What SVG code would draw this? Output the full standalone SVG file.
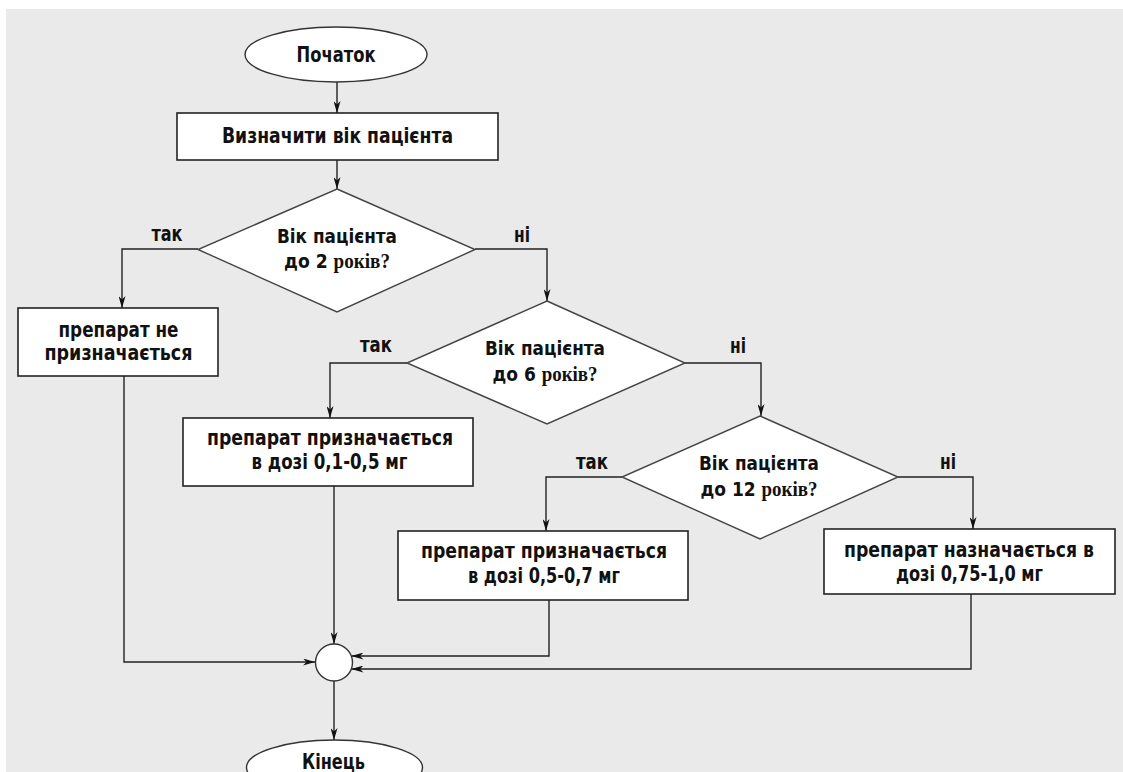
<svg xmlns="http://www.w3.org/2000/svg" width="1123" height="772" viewBox="0 0 1123 772">
<defs>
<marker id="arr" markerUnits="userSpaceOnUse" markerWidth="12" markerHeight="7" refX="12" refY="3.5" orient="auto">
<path d="M0,0 L12,3.5 L0,7 L3.5,3.5 z" fill="#111"/>
</marker>
<style>
.bg{fill:#eaeaea}
.box{fill:#fff;stroke:#222;stroke-width:1.6}
.dia{fill:#fff;stroke:#444;stroke-width:1.4}
.term{fill:#fff;stroke:#333;stroke-width:1.4}
.con{fill:none;stroke:#222;stroke-width:1.4;marker-end:url(#arr)}
text{font-family:"DejaVu Sans Condensed","Liberation Sans",sans-serif;font-weight:bold;font-size:21px;fill:#111;text-anchor:middle}
text.d{font-size:20px}
.ser{font-family:"Liberation Serif",serif;font-weight:bold}
</style>
</defs>
<rect width="1123" height="772" fill="#fff"/>
<rect class="bg" x="6" y="9" width="1117" height="763"/>

<g id="connectors">
<path class="con" d="M337,82 V113"/>
<path class="con" d="M337,160 V189"/>
<path class="con" d="M198,249 H122 V308"/>
<path class="con" d="M475,249 H547 V301"/>
<path class="con" d="M407,363 H330 V418"/>
<path class="con" d="M685,363 H761 V416"/>
<path class="con" d="M622,477 H546 V531"/>
<path class="con" d="M898,477 H973 V529"/>
<path class="con" d="M124,376 V662 H315"/>
<path class="con" d="M334,486 V644"/>
<path class="con" d="M549,600 V656 H351.5"/>
<path class="con" d="M971,594 V669 H351.5"/>
<path class="con" d="M334,681 V740"/>
<text x="167" y="241" textLength="31" lengthAdjust="spacingAndGlyphs">так</text>
<text x="522" y="242" textLength="16" lengthAdjust="spacingAndGlyphs">ні</text>
<text x="376" y="352" textLength="32" lengthAdjust="spacingAndGlyphs">так</text>
<text x="738" y="353" textLength="16" lengthAdjust="spacingAndGlyphs">ні</text>
<text x="592" y="469" textLength="32" lengthAdjust="spacingAndGlyphs">так</text>
<text x="948" y="469" textLength="16" lengthAdjust="spacingAndGlyphs">ні</text>
</g>

<g id="start">
<ellipse class="term" cx="336" cy="54.5" rx="91" ry="27.5"/>
<text x="336" y="61.5" textLength="79" lengthAdjust="spacingAndGlyphs">Початок</text>
</g>

<g id="determine-age">
<rect class="box" x="177" y="113" width="321" height="47"/>
<text x="337.5" y="143" textLength="231" lengthAdjust="spacingAndGlyphs">Визначити вік пацієнта</text>
</g>

<g id="decision-2">
<polygon class="dia" points="337,189 475,249.5 337,312 198,249.5"/>
<text class="d" x="337" y="243" textLength="120" lengthAdjust="spacingAndGlyphs">Вік пацієнта</text>
<text class="d" x="337" y="268" textLength="106" lengthAdjust="spacingAndGlyphs">до 2 <tspan class="ser">років?</tspan></text>
</g>

<g id="no-drug">
<rect class="box" x="18" y="308" width="200" height="68"/>
<text x="118.5" y="337" textLength="120" lengthAdjust="spacingAndGlyphs">препарат не</text>
<text x="118.5" y="360" textLength="148" lengthAdjust="spacingAndGlyphs">призначається</text>
</g>

<g id="decision-6">
<polygon class="dia" points="547,301 685,363 547,424 407,363"/>
<text class="d" x="545" y="355" textLength="120" lengthAdjust="spacingAndGlyphs">Вік пацієнта</text>
<text class="d" x="545" y="381" textLength="105" lengthAdjust="spacingAndGlyphs">до 6 <tspan class="ser">років?</tspan></text>
</g>

<g id="dose-01-05">
<rect class="box" x="183" y="418" width="290" height="68"/>
<text x="330" y="445" textLength="246" lengthAdjust="spacingAndGlyphs">препарат призначається</text>
<text x="329.5" y="469" textLength="156" lengthAdjust="spacingAndGlyphs">в дозі 0,1-0,5 мг</text>
</g>

<g id="decision-12">
<polygon class="dia" points="760,416 898,477 760,539 622,477"/>
<text class="d" x="759" y="470" textLength="120" lengthAdjust="spacingAndGlyphs">Вік пацієнта</text>
<text class="d" x="759" y="496" textLength="117" lengthAdjust="spacingAndGlyphs">до 12 <tspan class="ser">років?</tspan></text>
</g>

<g id="dose-05-07">
<rect class="box" x="398" y="531" width="290" height="69"/>
<text x="544" y="558" textLength="246" lengthAdjust="spacingAndGlyphs">препарат призначається</text>
<text x="544" y="583" textLength="152" lengthAdjust="spacingAndGlyphs">в дозі 0,5-0,7 мг</text>
</g>

<g id="dose-075-10">
<rect class="box" x="824" y="529" width="291" height="65"/>
<text x="969" y="557" textLength="250" lengthAdjust="spacingAndGlyphs">препарат назначається в</text>
<text x="969.5" y="581" textLength="147" lengthAdjust="spacingAndGlyphs">дозі 0,75-1,0 мг</text>
</g>

<g id="join">
<circle class="term" cx="334" cy="662.5" r="18.5"/>
</g>

<g id="end">
<ellipse class="term" cx="334.5" cy="767.5" rx="88" ry="27.5"/>
<text x="333.5" y="769" textLength="63" lengthAdjust="spacingAndGlyphs">Кінець</text>
</g>
</svg>
